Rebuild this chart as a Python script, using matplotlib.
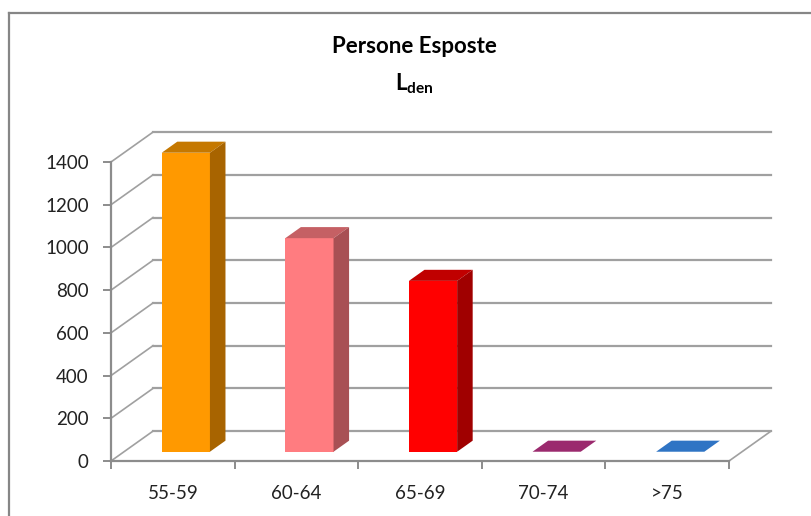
import matplotlib.pyplot as plt
from matplotlib.patches import Polygon
from matplotlib.lines import Line2D
import numpy as np

plt.rcParams['font.family'] = ['Lato', 'DejaVu Sans']
plt.rcParams['mathtext.fontset'] = 'custom'
plt.rcParams['mathtext.bf'] = 'Lato:bold'
plt.rcParams['mathtext.rm'] = 'Lato'

# dati
categorie = ['55-59', '60-64', '65-69', '70-74', '>75']
persone = [1400, 1000, 800, 0, 0]
yticks = [0, 200, 400, 600, 800, 1000, 1200, 1400]

# colori: fronte, sopra, lato
col_fronte = ['#FF9900', '#FF7C80', '#FF0000', '#9B2A6E', '#2F74C4']
col_sopra = ['#C57800', '#C56064', '#C00000', '#9B2A6E', '#2F74C4']
col_lato = ['#A86400', '#A85054', '#A00000', '#7A2156', '#245C9C']

# profondita' della vista 3D (in unita' dei dati)
DX = 0.34
DY = 140
f0, f1 = 0.31, 0.68
larg = 0.39
grigio = '#8C8C8C'

fig = plt.figure(figsize=(8.11, 5.16), dpi=100)
ax = fig.add_axes([111 / 811, 55 / 516, 618 / 811, 299 / 516])
n = len(categorie)
ax.set_xlim(0, n)
ax.set_ylim(0, 1400)

# pareti: griglia posteriore e diagonali a sinistra
for v in yticks:
    ax.plot([DX, n + DX], [v + DY, v + DY], color='#A0A0A0', lw=1.6, clip_on=False, zorder=1)
    ax.plot([0, DX], [v, v + DY], color='#A0A0A0', lw=1.2, clip_on=False, zorder=1)
# bordo destro del pavimento
ax.plot([n, n + DX], [0, DY], color='#A0A0A0', lw=1.2, clip_on=False, zorder=1)

# barre 3D
x = np.arange(n) + 0.5 + f0 * DX
base = f0 * DY
barre = ax.bar(x, persone, width=larg, bottom=base, color=col_fronte, zorder=3)
for b in barre:
    b.set_clip_on(False)
d = f1 - f0
for xi, v, cs, cl in zip(x, persone, col_sopra, col_lato):
    xl, xr = xi - larg / 2, xi + larg / 2
    top = base + v
    ax.add_patch(Polygon([(xl, top), (xr, top), (xr + d * DX, top + d * DY),
                          (xl + d * DX, top + d * DY)], closed=True,
                         facecolor=cs, edgecolor='none', zorder=3, clip_on=False))
    if v > 0:
        ax.add_patch(Polygon([(xr, base), (xr, top), (xr + d * DX, top + d * DY),
                              (xr + d * DX, base + d * DY)], closed=True,
                             facecolor=cl, edgecolor='none', zorder=3, clip_on=False))

# assi
for s in ['top', 'right']:
    ax.spines[s].set_visible(False)
for s in ['left', 'bottom']:
    ax.spines[s].set_color(grigio)
    ax.spines[s].set_linewidth(1.6)
ax.set_yticks(yticks)
ax.tick_params(axis='y', length=6, width=1.4, color=grigio, labelsize=13.5,
               labelcolor='#222222', pad=10)
ax.set_xticks(np.arange(n + 1))
ax.set_xticklabels([])
ax.set_xticks(np.arange(n) + 0.5, minor=True)
ax.set_xticklabels(categorie, minor=True)
ax.tick_params(axis='x', which='major', length=6, width=1.4, color=grigio)
ax.tick_params(axis='x', which='minor', length=0, labelsize=13.5,
               labelcolor='#222222', pad=17)
ax.patch.set_visible(False)

# titolo
fig.text(414 / 811, 1 - 47 / 516, 'Persone Esposte', ha='center', va='center',
         fontsize=16, fontweight='bold')
fig.text(414 / 811, 1 - 84 / 516, r'$\mathbf{L_{den}}$', ha='center', va='center',
         fontsize=16)

# cornice del grafico
fig.add_artist(Line2D([9 / 811, 9 / 811], [0, 1 - 13 / 516], transform=fig.transFigure,
                      color='#868686', lw=1.6))
fig.add_artist(Line2D([9 / 811, 1], [1 - 13 / 516, 1 - 13 / 516], transform=fig.transFigure,
                      color='#868686', lw=1.6))

fig.savefig('out.png', dpi=100)
